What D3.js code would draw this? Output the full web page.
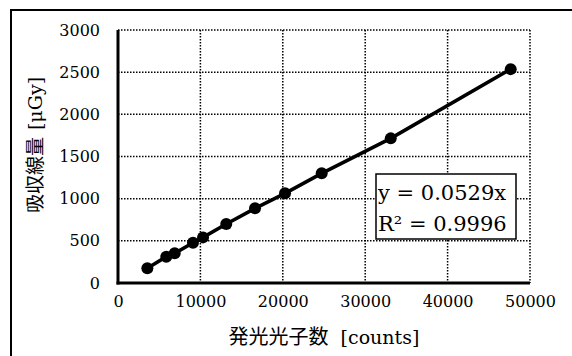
<!DOCTYPE html>
<html><head><meta charset="utf-8">
<script src="https://cdn.jsdelivr.net/npm/d3@7/dist/d3.min.js"></script>
<style>body{margin:0;background:#fff}svg{display:block}text{-webkit-font-smoothing:antialiased}</style>
</head><body>
<svg id="c" width="572" height="356"></svg>
<script>
const countsX = [3560, 5860, 6880, 9100, 10320, 13140, 16630, 20270, 24720, 33100, 47660];
const doseY = [174, 312, 352, 478, 541, 699, 885, 1063, 1300, 1715, 2536];
const xTicks = [0, 10000, 20000, 30000, 40000, 50000];
const yTicks = [0, 500, 1000, 1500, 2000, 2500, 3000];
const eqLines = ["y = 0.0529x", "R² = 0.9996"];
const xLabel = ["発光光子数", "[counts]"];
const yLabel = ["吸収線量", "[μGy]"];

const svg = d3.select("#c");
const serif = "'DejaVu Serif','Liberation Serif',serif";
const cjk = "'Noto Sans CJK JP','Noto Sans CJK SC',sans-serif";
const L = 118, R = 530, T = 30, B = 283;
const x = d3.scaleLinear().domain([0, 50000]).range([L, R]);
const y = d3.scaleLinear().domain([0, 3000]).range([B, T]);

// outer frame
svg.append("rect").attr("x", 11).attr("y", 10).attr("width", 600).attr("height", 400)
  .attr("fill", "none").attr("stroke", "#000").attr("stroke-width", 2);

// grid
svg.append("g").selectAll("line").data(yTicks.filter(d => d > 0)).join("line")
  .attr("x1", L).attr("x2", R).attr("y1", d => y(d)).attr("y2", d => y(d))
  .attr("stroke", "#000").attr("stroke-width", 1.5).attr("stroke-dasharray", "1.5,1.5");
svg.append("g").selectAll("line").data(xTicks.filter(d => d > 0)).join("line")
  .attr("y1", T).attr("y2", B).attr("x1", d => x(d)).attr("x2", d => x(d))
  .attr("stroke", "#000").attr("stroke-width", 1.5).attr("stroke-dasharray", "1.5,1.5");

// axes
const xAxis = svg.append("g").attr("transform", `translate(0,${B})`)
  .call(d3.axisBottom(x).tickValues(xTicks).tickSize(0).tickPadding(13).tickFormat(d3.format("d")));
const yAxis = svg.append("g").attr("transform", `translate(${L},0)`)
  .call(d3.axisLeft(y).tickValues(yTicks).tickSize(0).tickPadding(18).tickFormat(d3.format("d")));
[xAxis, yAxis].forEach(a => {
  a.attr("font-family", null).attr("font-size", null);
  a.select(".domain").attr("stroke", "#000").attr("stroke-width", 3);
  a.selectAll("text").style("font-family", serif).style("font-size", "16px").attr("fill", "#000");
});
xAxis.select(".domain").attr("d", `M${L - 1.5},0H${R}`);
yAxis.select(".domain").attr("d", `M0,${T}V${B + 1.5}`);

// line and points
const pts = countsX.map((v, i) => [v, doseY[i]]);
svg.append("path").datum(pts)
  .attr("d", d3.line().x(d => x(d[0])).y(d => y(d[1])))
  .attr("fill", "none").attr("stroke", "#000").attr("stroke-width", 3.5);
svg.append("g").selectAll("circle").data(pts).join("circle")
  .attr("cx", d => x(d[0])).attr("cy", d => y(d[1])).attr("r", 6).attr("fill", "#000");

// equation box
const box = svg.append("g");
box.append("rect").attr("x", 376).attr("y", 174).attr("width", 140).attr("height", 65)
  .attr("fill", "#fff").attr("stroke", "#000").attr("stroke-width", 1.5);
box.selectAll("text").data(eqLines).join("text")
  .attr("x", 378).attr("y", (d, i) => 200 + i * 31)
  .style("font-family", serif).style("font-size", "21px").attr("fill", "#000").text(d => d);

// axis titles
const xt = svg.append("text").attr("x", 324).attr("y", 344).attr("text-anchor", "middle").attr("fill", "#000");
xt.append("tspan").style("font-family", cjk).style("font-size", "20px").text(xLabel[0]);
xt.append("tspan").attr("dx", 12).style("font-family", serif).style("font-size", "19px").text(xLabel[1]);
const yt = svg.append("text").attr("transform", "translate(42,145) rotate(-90)").attr("text-anchor", "middle").attr("fill", "#000");
yt.append("tspan").style("font-family", cjk).style("font-size", "19px").text(yLabel[0]);
yt.append("tspan").attr("dx", 7).style("font-family", serif).style("font-size", "19px").text(yLabel[1]);
</script>
</body></html>
